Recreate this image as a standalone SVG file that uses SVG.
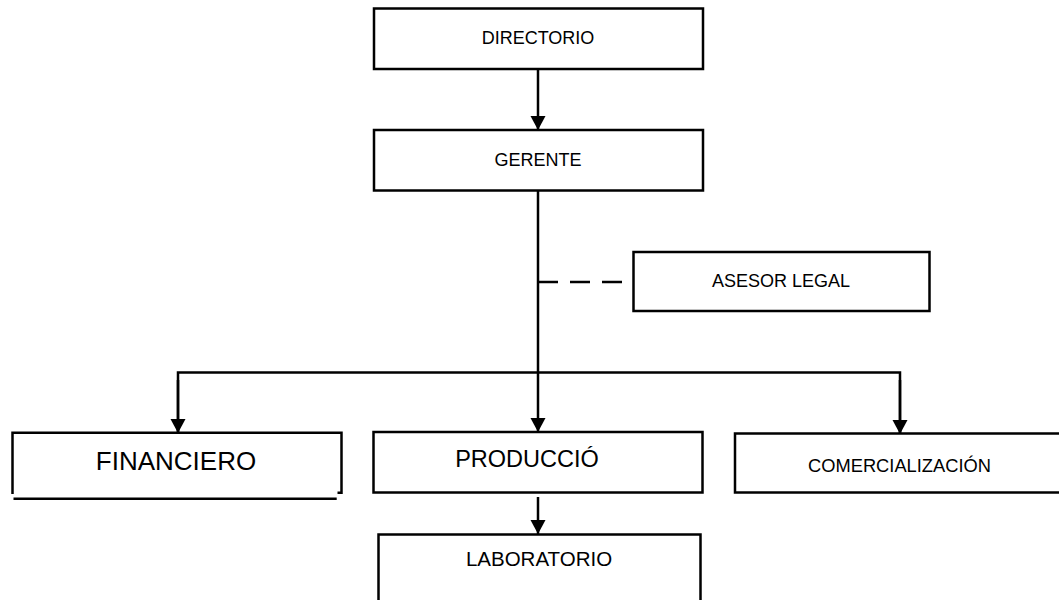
<svg xmlns="http://www.w3.org/2000/svg" width="1059" height="600" viewBox="0 0 1059 600">
<style>
.box{fill:#fff;stroke:#000;stroke-width:2.5}
.edge{fill:none;stroke:#000;stroke-width:2.5}
.t{font-family:"Liberation Sans",Arial,sans-serif;fill:#000;text-anchor:middle}
</style>
<defs>
<marker id="arr" markerUnits="userSpaceOnUse" markerWidth="16" markerHeight="16" refX="14" refY="7.5" orient="auto">
<path d="M0,0 L14,7.5 L0,15 Z" fill="#000"/>
</marker>
</defs>
<rect width="1059" height="600" fill="#fff"/>
<g id="connectors">
<line class="edge" x1="538" y1="69" x2="538" y2="130" marker-end="url(#arr)"/>
<line class="edge" x1="538" y1="191" x2="538" y2="432" marker-end="url(#arr)"/>
<polyline class="edge" points="178,434 178,372.5 900,372.5 900,434"/>
<line class="edge" x1="178" y1="380" x2="178" y2="433" marker-end="url(#arr)"/>
<line class="edge" x1="900" y1="380" x2="900" y2="434" marker-end="url(#arr)"/>
<line class="edge" x1="538" y1="282" x2="633" y2="282" stroke-dasharray="20 12"/>
<line class="edge" x1="538" y1="497" x2="538" y2="534" marker-end="url(#arr)"/>
</g>
<g id="directorio">
<rect class="box" x="374" y="8.5" width="329" height="60.5"/>
<text class="t" x="538" y="44.3" font-size="18">DIRECTORIO</text>
</g>
<g id="gerente">
<rect class="box" x="374" y="130" width="329" height="60.5"/>
<text class="t" x="538" y="165.7" font-size="18">GERENTE</text>
</g>
<g id="asesor">
<rect class="box" x="633.5" y="252" width="296" height="59"/>
<text class="t" x="781" y="287.3" font-size="18">ASESOR LEGAL</text>
</g>
<g id="financiero">
<path class="edge" d="M12.5,494 V432.7 H341.5 V492.7 H337.5"/>
<line class="edge" x1="13.5" y1="498.7" x2="336.7" y2="498.7"/>
<text class="t" x="176" y="470" font-size="26">FINANCIERO</text>
</g>
<g id="produccion">
<rect class="box" x="373.5" y="432" width="329" height="60.5"/>
<text class="t" x="527" y="466.7" font-size="23.5">PRODUCCIÓ</text>
</g>
<g id="comercializacion">
<rect class="box" x="735" y="433.5" width="340" height="59"/>
<text class="t" x="899.5" y="471.7" font-size="18.3">COMERCIALIZACIÓN</text>
</g>
<g id="laboratorio">
<rect class="box" x="378.5" y="534.5" width="322" height="80"/>
<text class="t" x="539" y="566" font-size="20.5">LABORATORIO</text>
</g>
</svg>
